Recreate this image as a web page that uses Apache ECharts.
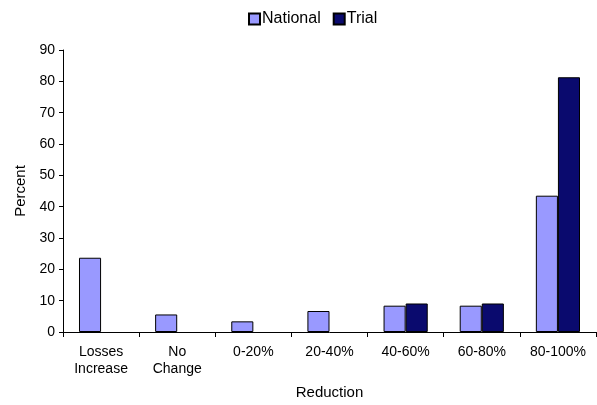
<!DOCTYPE html>
<html>
<head>
<meta charset="utf-8">
<script src="https://cdn.jsdelivr.net/npm/echarts@6/dist/echarts.min.js"></script>
<style>html,body{margin:0;padding:0;background:#fff}#c{width:597px;height:405px}</style>
</head>
<body>
<div id="c"></div>
<script>
const categories = ['Losses\nIncrease', 'No\nChange', '0-20%', '20-40%', '40-60%', '60-80%', '80-100%'];
const national = [23.7, 5.6, 3.4, 6.7, 8.4, 8.4, 43.5];
const trial = [null, null, null, null, 9.1, 9.1, 81.3];
const yTicks = [0, 10, 20, 30, 40, 50, 60, 70, 80, 90];

const font = 'Liberation Sans, Arial, sans-serif';
const chart = echarts.init(document.getElementById('c'));
chart.setOption({
  animation: false,
  textStyle: { fontFamily: font, color: '#000' },
  legend: {
    left: 243, top: 6,
    icon: 'rect',
    itemWidth: 11, itemHeight: 11, itemGap: 12,
    textStyle: { fontFamily: font, fontSize: 16, color: '#000', padding: [0,0,0,-3] },
    data: ['National', 'Trial']
  },
  grid: { left: 63, right: 1, top: 50, bottom: 72 },
  xAxis: {
    type: 'category',
    data: categories,
    name: 'Reduction',
    nameLocation: 'middle',
    nameGap: 53,
    nameTextStyle: { fontFamily: font, fontSize: 15, color: '#000' },
    axisLine: { lineStyle: { color: '#000', width: 1 } },
    axisTick: { show: true, length: 5, lineStyle: { color: '#000' } },
    axisLabel: { fontFamily: font, fontSize: 14, color: '#000', margin: 12, lineHeight: 17, interval: 0 }
  },
  yAxis: {
    type: 'value',
    min: yTicks[0], max: yTicks[yTicks.length - 1], interval: 10,
    name: 'Percent',
    nameLocation: 'middle',
    nameGap: 33,
    nameTextStyle: { fontFamily: font, fontSize: 15, color: '#000' },
    axisLine: { show: true, lineStyle: { color: '#000', width: 1 } },
    axisTick: { show: true, length: 4, lineStyle: { color: '#000' } },
    axisLabel: { fontFamily: font, fontSize: 14, color: '#000', margin: 8 },
    splitLine: { show: false }
  },
  series: [
    { name: 'National', type: 'bar', data: national, barGap: '0%', barCategoryGap: '42%',
      itemStyle: { color: '#9999ff', borderColor: '#000', borderWidth: 1 } },
    { name: 'Trial', type: 'bar', data: trial,
      itemStyle: { color: '#0a0a6e', borderColor: '#000', borderWidth: 1 } }
  ]
});
</script>
</body>
</html>
